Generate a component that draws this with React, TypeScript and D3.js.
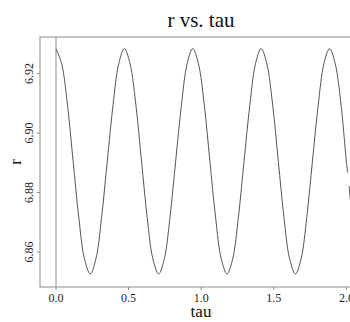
import React from "react";
import * as d3 from "d3";

// Values
const tau: number[] = [
  0.000, 0.039, 0.079, 0.118, 0.157, 0.196, 0.236, 0.275, 0.314, 0.353,
  0.393, 0.432, 0.471, 0.510, 0.550, 0.589, 0.628, 0.667, 0.707, 0.746,
  0.785, 0.824, 0.864, 0.903, 0.942, 0.981, 1.021, 1.060, 1.099, 1.138,
  1.178, 1.217, 1.256, 1.295, 1.335, 1.374, 1.413, 1.452, 1.492, 1.531,
  1.570, 1.609, 1.649, 1.688, 1.727, 1.766, 1.806, 1.845, 1.884, 1.923,
  1.963, 2.002, 2.009, 2.013, 2.018, 2.041, 2.080,
];
const r: (number | null)[] = [
  6.9284, 6.9233, 6.9095, 6.8905, 6.8716, 6.8577, 6.8526, 6.8577, 6.8716, 6.8905,
  6.9095, 6.9233, 6.9284, 6.9233, 6.9095, 6.8905, 6.8716, 6.8577, 6.8526, 6.8577,
  6.8716, 6.8905, 6.9095, 6.9233, 6.9284, 6.9233, 6.9095, 6.8905, 6.8716, 6.8577,
  6.8526, 6.8577, 6.8716, 6.8905, 6.9095, 6.9233, 6.9284, 6.9233, 6.9095, 6.8905,
  6.8716, 6.8577, 6.8526, 6.8577, 6.8716, 6.8905, 6.9095, 6.9233, 6.9284, 6.9233,
  6.9095, 6.8893, 6.8867, null, 6.8822, 6.8716, 6.8577,
];
const xTicks: number[] = [0.0, 0.5, 1.0, 1.5, 2.0];
const yTicks: number[] = [6.86, 6.88, 6.90, 6.92];
const title = "r vs. tau";
const xLabel = "tau";
const yLabel = "r";

const W = 350;
const H = 322;
const box = { left: 40, top: 37, right: 362, bottom: 287 };

export default function App() {
  const x = d3.scaleLinear().domain([-0.1102, 2.1074]).range([box.left, box.right]);
  const y = d3.scaleLinear().domain([6.8482, 6.9323]).range([box.bottom, box.top]);
  const pts = tau.map((t, i) => ({ t, v: r[i] }));
  const line = d3
    .line<{ t: number; v: number | null }>()
    .defined((d) => d.v != null)
    .x((d) => x(d.t))
    .y((d) => y(d.v as number))
    .curve(d3.curveCatmullRom.alpha(0.5));
  const font = "'Liberation Serif', 'DejaVu Serif', serif";
  const gray = "#8c8c8c";
  return (
    <svg
      width={W}
      height={H}
      style={{ position: "absolute", left: 0, top: 0, background: "#fff" }}
    >
      <defs>
        <clipPath id="plotclip">
          <rect x={box.left} y={box.top} width={box.right - box.left} height={box.bottom - box.top} />
        </clipPath>
      </defs>
      <text x={201} y={27} textAnchor="middle" fontFamily={font} fontSize={21} fill="#111">
        {title}
      </text>
      <rect
        x={box.left}
        y={box.top}
        width={box.right - box.left}
        height={box.bottom - box.top}
        fill="none"
        stroke={gray}
        strokeWidth={1}
      />
      <line x1={x(0)} x2={x(0)} y1={box.top} y2={box.bottom} stroke={gray} strokeWidth={1} />
      <g clipPath="url(#plotclip)">
        <path d={line(pts) || ""} fill="none" stroke="#555" strokeWidth={1} />
      </g>
      {xTicks.map((t) => (
        <g key={"x" + t}>
          <line x1={x(t)} x2={x(t)} y1={box.bottom} y2={box.bottom + 3} stroke={gray} />
          <text x={x(t)} y={302} textAnchor="middle" fontFamily={font} fontSize={12} fill="#222">
            {t.toFixed(1)}
          </text>
        </g>
      ))}
      {yTicks.map((t) => (
        <g key={"y" + t}>
          <line x1={box.left - 3} x2={box.left} y1={y(t)} y2={y(t)} stroke={gray} />
          <text
            transform={`translate(33,${y(t)}) rotate(-90)`}
            textAnchor="middle"
            fontFamily={font}
            fontSize={12}
            fill="#222"
          >
            {t.toFixed(2)}
          </text>
        </g>
      ))}
      <text x={201} y={317} textAnchor="middle" fontFamily={font} fontSize={17} fill="#111">
        {xLabel}
      </text>
      <text
        transform={`translate(21,162) rotate(-90)`}
        textAnchor="middle"
        fontFamily={font}
        fontSize={17}
        fill="#111"
      >
        {yLabel}
      </text>
    </svg>
  );
}
